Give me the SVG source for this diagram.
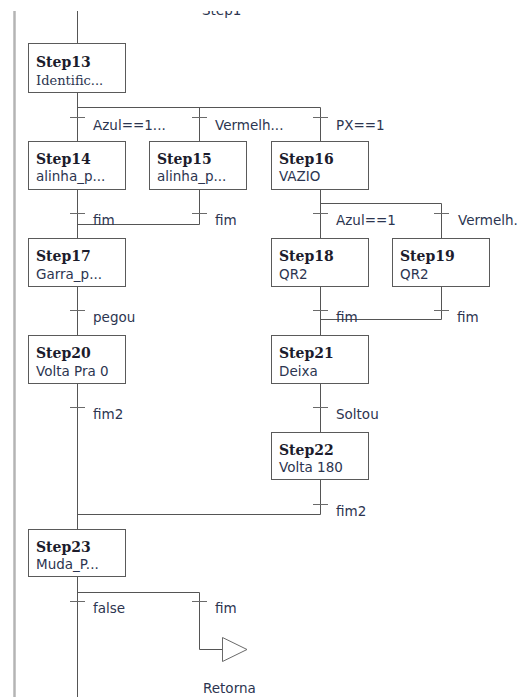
<svg xmlns="http://www.w3.org/2000/svg" width="522" height="697" viewBox="0 0 522 697">
  <style>
    .bg { fill: #ffffff; }
    .rail { stroke: #b4b4b4; stroke-width: 2.5; fill: none; }
    .wire { stroke: #555555; stroke-width: 1; fill: none; }
    .tick { stroke: #6a6a6a; stroke-width: 1; }
    .box { fill: #ffffff; stroke: #5a5a5a; stroke-width: 1; }
    .name { font-family: "DejaVu Serif", "Liberation Serif", serif; font-weight: bold; font-size: 14px; fill: #1c1c2c; }
    .act { font-family: "DejaVu Sans", "Liberation Sans", sans-serif; font-size: 13.5px; fill: #2c3550; }
    .act-serif { font-family: "DejaVu Serif", "Liberation Serif", serif; font-size: 13px; fill: #2c3550; }
    .cond { font-family: "DejaVu Sans", "Liberation Sans", sans-serif; font-size: 13.5px; fill: #2c3550; }
    .ret { fill: #ffffff; stroke: #6a6a6a; stroke-width: 1; }
  </style>
  <defs>
    <clipPath id="topcut">
      <rect x="0" y="11" width="522" height="20"/>
    </clipPath>
  </defs>

  <rect class="bg" x="0" y="0" width="522" height="697"/>

  <!-- left power rail -->
  <line class="rail" x1="14.5" y1="11" x2="14.5" y2="697"/>

  <!-- label of the previous step, scrolled partly out of view -->
  <text class="cond" x="202" y="14.5" clip-path="url(#topcut)">Step1</text>

  <g id="connectors">
    <!-- into Step13 -->
    <line class="wire" x1="77.5" y1="11" x2="77.5" y2="43"/>
    <!-- Step13 divergence -->
    <line class="wire" x1="77.5" y1="92" x2="77.5" y2="141"/>
    <line class="wire" x1="77.5" y1="107.5" x2="320.5" y2="107.5"/>
    <line class="wire" x1="199.5" y1="107.5" x2="199.5" y2="141"/>
    <line class="wire" x1="320.5" y1="107.5" x2="320.5" y2="141"/>
    <line class="tick" x1="70" y1="117.5" x2="85" y2="117.5"/>
    <line class="tick" x1="192" y1="117.5" x2="207" y2="117.5"/>
    <line class="tick" x1="313" y1="117.5" x2="328" y2="117.5"/>

    <!-- Step14 / Step15 convergence into Step17 -->
    <line class="wire" x1="77.5" y1="190" x2="77.5" y2="238"/>
    <line class="wire" x1="199.5" y1="190" x2="199.5" y2="224.5"/>
    <line class="wire" x1="77.5" y1="224.5" x2="199.5" y2="224.5"/>
    <line class="tick" x1="70" y1="213.5" x2="85" y2="213.5"/>
    <line class="tick" x1="192" y1="213.5" x2="207" y2="213.5"/>

    <!-- Step16 divergence -->
    <line class="wire" x1="320.5" y1="190" x2="320.5" y2="238"/>
    <line class="wire" x1="320.5" y1="203.5" x2="441.5" y2="203.5"/>
    <line class="wire" x1="441.5" y1="203.5" x2="441.5" y2="238"/>
    <line class="tick" x1="313" y1="213.5" x2="328" y2="213.5"/>
    <line class="tick" x1="434" y1="213.5" x2="449" y2="213.5"/>

    <!-- Step17 to Step20 -->
    <line class="wire" x1="77.5" y1="287" x2="77.5" y2="335"/>
    <line class="tick" x1="70" y1="310.5" x2="85" y2="310.5"/>

    <!-- Step18 / Step19 convergence into Step21 -->
    <line class="wire" x1="320.5" y1="287" x2="320.5" y2="335"/>
    <line class="wire" x1="441.5" y1="287" x2="441.5" y2="319.5"/>
    <line class="wire" x1="320.5" y1="319.5" x2="441.5" y2="319.5"/>
    <line class="tick" x1="313" y1="310.5" x2="328" y2="310.5"/>
    <line class="tick" x1="434" y1="310.5" x2="449" y2="310.5"/>

    <!-- Step20 to Step23 -->
    <line class="wire" x1="77.5" y1="383" x2="77.5" y2="529"/>
    <line class="tick" x1="70" y1="407.5" x2="85" y2="407.5"/>

    <!-- Step21 to Step22 -->
    <line class="wire" x1="320.5" y1="383" x2="320.5" y2="432"/>
    <line class="tick" x1="313" y1="407.5" x2="328" y2="407.5"/>

    <!-- Step22 back to main branch -->
    <line class="wire" x1="320.5" y1="479" x2="320.5" y2="514.5"/>
    <line class="wire" x1="77.5" y1="514.5" x2="320.5" y2="514.5"/>
    <line class="tick" x1="313" y1="504.5" x2="328" y2="504.5"/>

    <!-- Step23 divergence -->
    <line class="wire" x1="77.5" y1="577" x2="77.5" y2="697"/>
    <line class="wire" x1="77.5" y1="592.5" x2="199.5" y2="592.5"/>
    <polyline class="wire" points="199.5,592.5 199.5,649.5 222,649.5"/>
    <line class="tick" x1="70" y1="601.5" x2="85" y2="601.5"/>
    <line class="tick" x1="192" y1="601.5" x2="207" y2="601.5"/>
  </g>

  <!-- transition conditions -->
  <g id="conditions">
    <text class="cond" x="93" y="129.5">Azul==1...</text>
    <text class="cond" x="215" y="129.5">Vermelh...</text>
    <text class="cond" x="336" y="129.5">PX==1</text>
    <text class="cond" x="93" y="224.5">fim</text>
    <text class="cond" x="215" y="224.5">fim</text>
    <text class="cond" x="336" y="225">Azul==1</text>
    <text class="cond" x="458" y="225">Vermelh.</text>
    <text class="cond" x="93" y="322">pegou</text>
    <text class="cond" x="336" y="321.5">fim</text>
    <text class="cond" x="457" y="321.5">fim</text>
    <text class="cond" x="93" y="418.5">fim2</text>
    <text class="cond" x="336" y="418.5">Soltou</text>
    <text class="cond" x="336" y="516">fim2</text>
    <text class="cond" x="93" y="612.5">false</text>
    <text class="cond" x="215" y="612.5">fim</text>
  </g>

  <g id="step13">
    <rect class="box" x="28.5" y="43.5" width="97" height="49"/>
    <text class="name" x="36" y="67">Step13</text>
    <text class="act-serif" x="36" y="85">Identific...</text>
  </g>
  <g id="step14">
    <rect class="box" x="28.5" y="141.5" width="97" height="48"/>
    <text class="name" x="36" y="164">Step14</text>
    <text class="act" x="36" y="181">alinha_p...</text>
  </g>
  <g id="step15">
    <rect class="box" x="149.5" y="141.5" width="97" height="48"/>
    <text class="name" x="157" y="164">Step15</text>
    <text class="act" x="157" y="181">alinha_p...</text>
  </g>
  <g id="step16">
    <rect class="box" x="271.5" y="141.5" width="97" height="48"/>
    <text class="name" x="279" y="164">Step16</text>
    <text class="act" x="279" y="181">VAZIO</text>
  </g>
  <g id="step17">
    <rect class="box" x="28.5" y="238.5" width="97" height="48"/>
    <text class="name" x="36" y="261">Step17</text>
    <text class="act" x="36" y="279">Garra_p...</text>
  </g>
  <g id="step18">
    <rect class="box" x="271.5" y="238.5" width="97" height="48"/>
    <text class="name" x="279" y="261">Step18</text>
    <text class="act" x="279" y="279">QR2</text>
  </g>
  <g id="step19">
    <rect class="box" x="392.5" y="238.5" width="97" height="48"/>
    <text class="name" x="400" y="261">Step19</text>
    <text class="act" x="400" y="279">QR2</text>
  </g>
  <g id="step20">
    <rect class="box" x="28.5" y="335.5" width="97" height="48"/>
    <text class="name" x="36" y="358">Step20</text>
    <text class="act" x="36" y="376">Volta Pra 0</text>
  </g>
  <g id="step21">
    <rect class="box" x="271.5" y="335.5" width="97" height="48"/>
    <text class="name" x="279" y="358">Step21</text>
    <text class="act" x="279" y="376">Deixa</text>
  </g>
  <g id="step22">
    <rect class="box" x="271.5" y="432.5" width="97" height="47"/>
    <text class="name" x="279" y="455">Step22</text>
    <text class="act" x="279" y="472">Volta 180</text>
  </g>
  <g id="step23">
    <rect class="box" x="28.5" y="529.5" width="97" height="47"/>
    <text class="name" x="36" y="552">Step23</text>
    <text class="act" x="36" y="569">Muda_P...</text>
  </g>

  <!-- jump back to the initial step -->
  <g id="jump-retorna">
    <polygon class="ret" points="222.5,637.5 222.5,661.5 247,649.5"/>
    <text class="cond" x="203" y="693">Retorna</text>
  </g>
</svg>
